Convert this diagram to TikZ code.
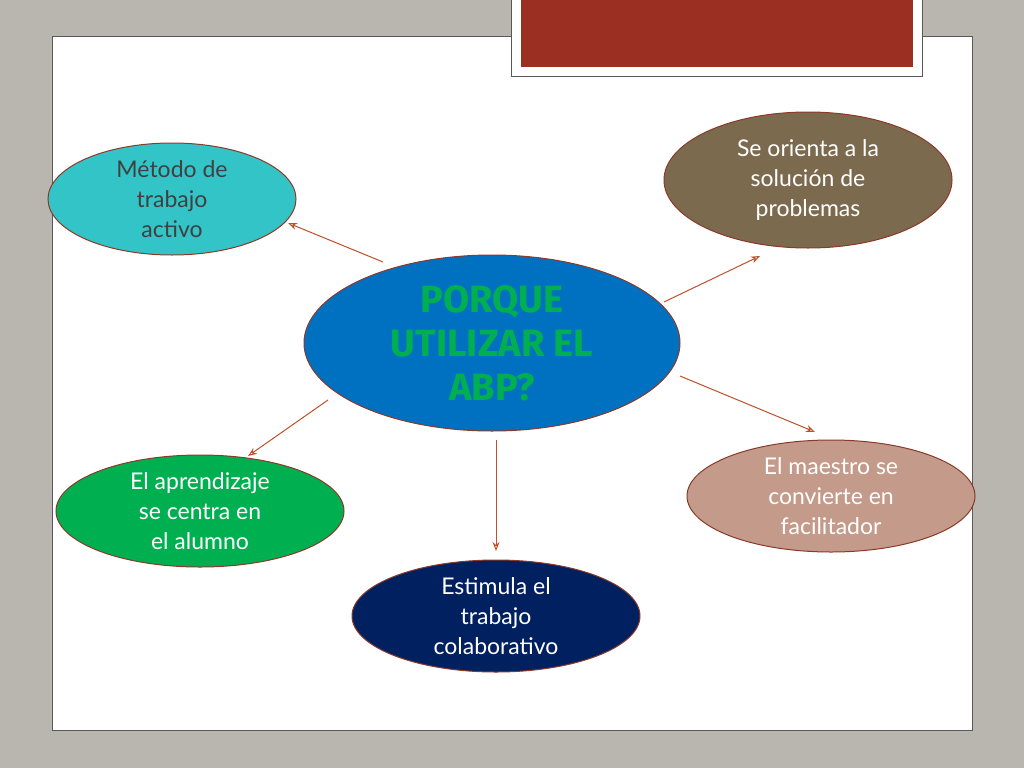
\documentclass[tikz,border=0pt]{standalone}
\usepackage{fontspec}
\setmainfont{Lato}
\newfontfamily\titlefont{Fira Sans}
\usetikzlibrary{arrows.meta,shapes.geometric}
\definecolor{bg}{HTML}{B9B5AF}
\definecolor{redbox}{HTML}{9A2F22}
\definecolor{edge}{HTML}{8B3A2A}
\definecolor{arr}{HTML}{C0502A}
\tikzset{
 bub/.style={ellipse,draw=edge,line width=1pt,align=center,inner sep=0pt,font=\fontsize{23}{30}\selectfont,text=white},
 arrw/.style={draw=arr,line width=1pt,-{Stealth[length=9pt,width=7pt,open]}}
}
\begin{document}
\begin{tikzpicture}[x=1pt,y=-1pt]
\useasboundingbox (0,0) rectangle (1024,768);
\fill[bg] (0,0) rectangle (1024,768);
\draw[fill=white,draw=gray!70!black,line width=1pt] (52,37) rectangle (972,730);
\draw[fill=white,draw=gray!70!black,line width=1pt] (511,-2) rectangle (922,76);
\fill[redbox] (521,-2) rectangle (913,67);
\node[bub,minimum width=376,minimum height=176,fill={rgb,255:red,0;green,112;blue,192},text={rgb,255:red,0;green,176;blue,80},font=\titlefont\bfseries\fontsize{38}{44}\selectfont] (c) at (492,343) {PORQUE\\UTILIZAR EL\\ABP?};
\node[bub,minimum width=248,minimum height=112,fill={rgb,255:red,51;green,196;blue,200},text=black!75] (m) at (172,199) {Método de\\trabajo\\activo};
\node[bub,minimum width=288,minimum height=136,fill={rgb,255:red,123;green,106;blue,78}] (s) at (808,180) {Se orienta a la\\solución de\\problemas};
\node[bub,minimum width=288,minimum height=112,fill={rgb,255:red,196;green,154;blue,138}] (f) at (831,496) {El maestro se\\convierte en\\facilitador};
\node[bub,minimum width=288,minimum height=112,fill={rgb,255:red,0;green,32;blue,96}] (e) at (496,616) {Estimula el\\trabajo\\colaborativo};
\node[bub,minimum width=288,minimum height=112,fill={rgb,255:red,0;green,176;blue,80}] (a) at (200,511) {El aprendizaje\\se centra en\\el alumno};
\coordinate (c1) at (383,262); \coordinate (m1) at (288,223);
\coordinate (c2) at (664,302); \coordinate (s1) at (760,256);
\coordinate (c3) at (680,376); \coordinate (f1) at (815,432);
\coordinate (c4) at (496,440); \coordinate (e1) at (496,551);
\coordinate (c5) at (328,400); \coordinate (a1) at (248,456);
\draw[arrw] (c1) -- (m1);
\draw[arrw] (c2) -- (s1);
\draw[arrw] (c3) -- (f1);
\draw[arrw] (c4) -- (e1);
\draw[arrw] (c5) -- (a1);
\end{tikzpicture}
\end{document}
